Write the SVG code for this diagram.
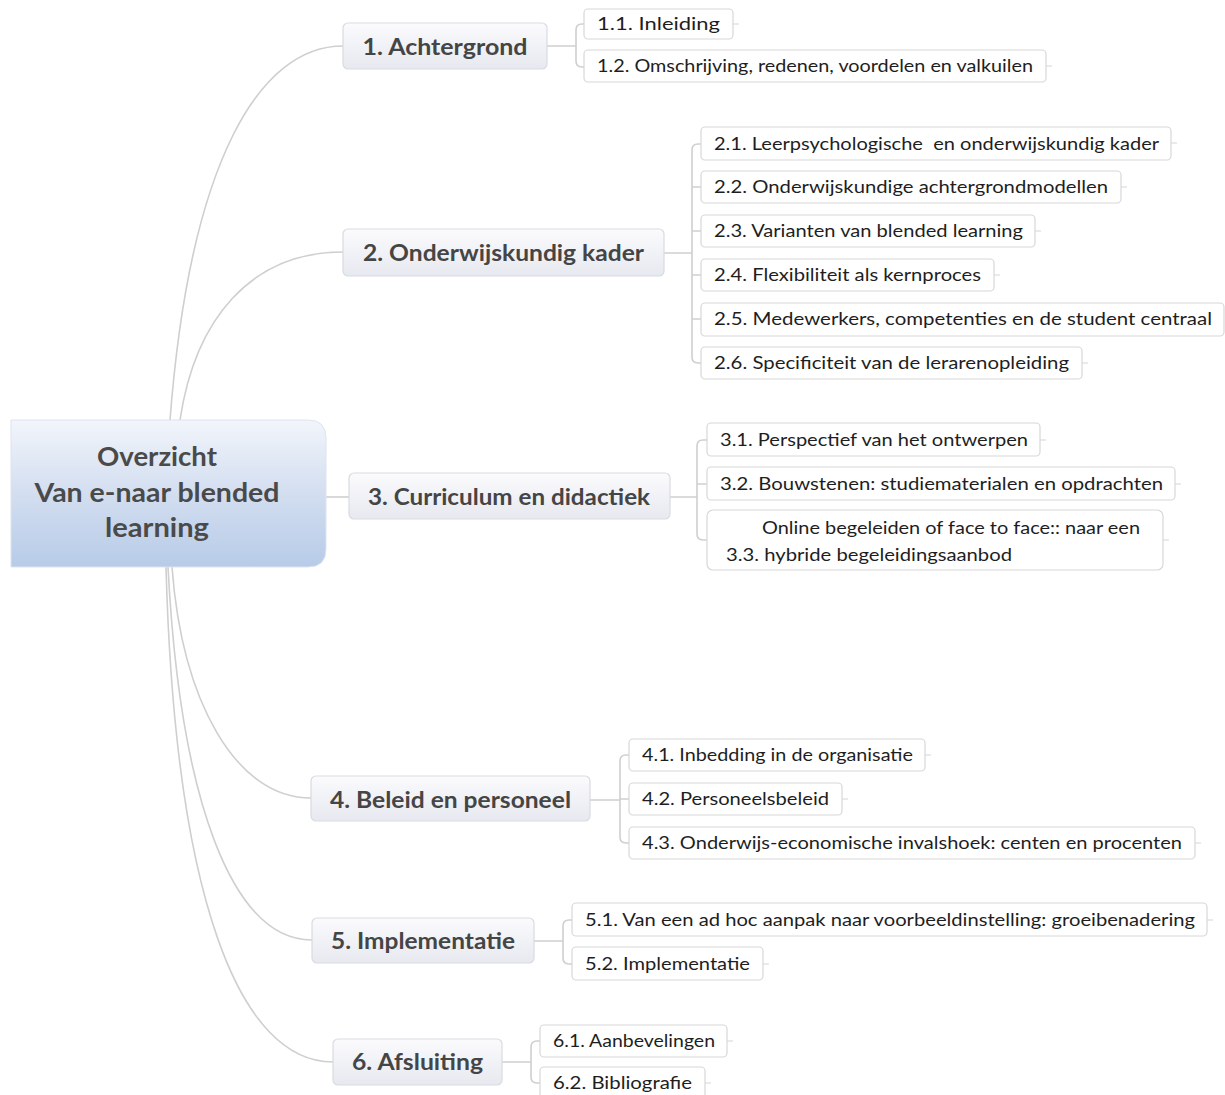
<svg xmlns="http://www.w3.org/2000/svg" width="1225" height="1095" viewBox="0 0 1225 1095">
<defs>
<linearGradient id="rootG" x1="0" y1="0" x2="0" y2="1">
<stop offset="0" stop-color="#f2f5fb"/>
<stop offset="0.5" stop-color="#d3def0"/>
<stop offset="1" stop-color="#b7cbe8"/>
</linearGradient>
<linearGradient id="brG" x1="0" y1="0" x2="0" y2="1">
<stop offset="0" stop-color="#fbfbfd"/>
<stop offset="1" stop-color="#e7e9f0"/>
</linearGradient>
</defs>
<style>
.con{fill:none;stroke:#cfcfcf;stroke-width:1.6}
.stub{fill:none;stroke:#d6d6d6;stroke-width:1.2}
.br rect{fill:url(#brG);stroke:#d9dbe1;stroke-width:1.2}
.br text{font-family:Lato,"Open Sans",sans-serif;font-weight:bold;font-size:22px;fill:#454545;text-anchor:middle}
.lf rect{fill:#ffffff;stroke:#d8d8d8;stroke-width:1.2}
.lf text{font-family:Lato,"Open Sans",sans-serif;font-size:18px;fill:#1e1e1e}
.rt text{font-family:Lato,"Open Sans",sans-serif;font-weight:bold;font-size:26px;fill:#4a4a4a;text-anchor:middle}
</style>
<rect width="1225" height="1095" fill="#ffffff"/>
<g id="connectors">
<path class="con" d="M170,420 C190,160 260,46 343,46"/>
<path class="con" d="M180,420 C195,320 250,252 343,252"/>
<path class="con" d="M326,497 H349"/>
<path class="con" d="M172,567 C182,700 235,798 311,798"/>
<path class="con" d="M168,567 C180,800 232,940 312,940"/>
<path class="con" d="M166,567 C175,900 240,1062 333,1062"/>
<path class="con" d="M547,46 H576 M584,24 H582 Q576,24 576,30 V61 Q576,67 582,67 H584"/>
<path class="con" d="M664,253 H692 M701,144 H698 Q692,144 692,150 V357 Q692,363 698,363 H701 M692,187 H701 M692,231 H701 M692,275 H701 M692,319 H701"/>
<path class="con" d="M670,497 H697 M707,440 H703 Q697,440 697,446 V534 Q697,540 703,540 H707 M697,484 H707"/>
<path class="con" d="M590,800 H620 M629,755 H626 Q620,755 620,761 V837 Q620,843 626,843 H629 M620,799 H629"/>
<path class="con" d="M534,941 H563 M572,920 H569 Q563,920 563,926 V958 Q563,964 569,964 H572"/>
<path class="con" d="M502,1062 H531 M540,1041 H537 Q531,1041 531,1047 V1077 Q531,1083 537,1083 H540"/>
<path class="stub" d="M733,24 h6 M1046,66 h6 M1171,143 h6 M1121,187 h6 M1035,231 h6 M994,275 h6 M1082,363 h6 M1040,440 h6 M1175,484 h6 M1163,540 h6 M925,755 h6 M842,799 h6 M1195,843 h6 M1207,920 h6 M763,964 h6 M727,1041 h6 M705,1083 h6"/>
</g>
<g id="root" class="rt">
<path d="M11,420 H308 Q326,420 326,438 V549 Q326,567 308,567 H11 Z" fill="url(#rootG)" stroke="#dde3ee" stroke-width="1"/>
<text x="157" y="466" textLength="120" lengthAdjust="spacingAndGlyphs">Overzicht</text>
<text x="157" y="502" textLength="245" lengthAdjust="spacingAndGlyphs">Van e-naar blended</text>
<text x="157" y="537" textLength="104" lengthAdjust="spacingAndGlyphs">learning</text>
</g>
<g id="b1" class="br"><rect x="343" y="23" width="204" height="46" rx="5"/><text x="445" y="55" textLength="165" lengthAdjust="spacingAndGlyphs">1. Achtergrond</text></g>
<g id="b2" class="br"><rect x="343" y="229" width="321" height="47" rx="5"/><text x="503.5" y="261" textLength="281" lengthAdjust="spacingAndGlyphs">2. Onderwijskundig kader</text></g>
<g id="b3" class="br"><rect x="349" y="473" width="321" height="46" rx="5"/><text x="509" y="505" textLength="282" lengthAdjust="spacingAndGlyphs">3. Curriculum en didactiek</text></g>
<g id="b4" class="br"><rect x="311" y="776" width="279" height="45" rx="5"/><text x="450.5" y="808" textLength="241" lengthAdjust="spacingAndGlyphs">4. Beleid en personeel</text></g>
<g id="b5" class="br"><rect x="312" y="918" width="222" height="45" rx="5"/><text x="423" y="949" textLength="184" lengthAdjust="spacingAndGlyphs">5. Implementatie</text></g>
<g id="b6" class="br"><rect x="333" y="1039" width="169" height="46" rx="5"/><text x="417.5" y="1070" textLength="131" lengthAdjust="spacingAndGlyphs">6. Afsluiting</text></g>
<g id="l11" class="lf"><rect x="584" y="9" width="149" height="30" rx="4"/><text x="597" y="30" textLength="123" lengthAdjust="spacingAndGlyphs">1.1. Inleiding</text></g>
<g id="l12" class="lf"><rect x="584" y="50" width="462" height="32" rx="4"/><text x="597" y="72" textLength="436" lengthAdjust="spacingAndGlyphs">1.2. Omschrijving, redenen, voordelen en valkuilen</text></g>
<g id="l21" class="lf"><rect x="701" y="127" width="470" height="33" rx="4"/><text x="714" y="150" textLength="445" lengthAdjust="spacingAndGlyphs">2.1. Leerpsychologische&#160; en onderwijskundig kader</text></g>
<g id="l22" class="lf"><rect x="701" y="171" width="420" height="32" rx="4"/><text x="714" y="193" textLength="394" lengthAdjust="spacingAndGlyphs">2.2. Onderwijskundige achtergrondmodellen</text></g>
<g id="l23" class="lf"><rect x="701" y="215" width="334" height="32" rx="4"/><text x="714" y="237" textLength="309" lengthAdjust="spacingAndGlyphs">2.3. Varianten van blended learning</text></g>
<g id="l24" class="lf"><rect x="701" y="259" width="293" height="32" rx="4"/><text x="714" y="281" textLength="267" lengthAdjust="spacingAndGlyphs">2.4. Flexibiliteit als kernproces</text></g>
<g id="l25" class="lf"><rect x="701" y="303" width="523" height="33" rx="4"/><text x="714" y="325" textLength="498" lengthAdjust="spacingAndGlyphs">2.5. Medewerkers, competenties en de student centraal</text></g>
<g id="l26" class="lf"><rect x="701" y="347" width="381" height="32" rx="4"/><text x="714" y="369" textLength="355" lengthAdjust="spacingAndGlyphs">2.6. Specificiteit van de lerarenopleiding</text></g>
<g id="l31" class="lf"><rect x="707" y="423" width="333" height="33" rx="4"/><text x="720" y="446" textLength="308" lengthAdjust="spacingAndGlyphs">3.1. Perspectief van het ontwerpen</text></g>
<g id="l32" class="lf"><rect x="707" y="467" width="468" height="33" rx="4"/><text x="720" y="490" textLength="443" lengthAdjust="spacingAndGlyphs">3.2. Bouwstenen: studiematerialen en opdrachten</text></g>
<g id="l33" class="lf"><rect x="707" y="510" width="456" height="60" rx="6"/><text x="762" y="534" textLength="378" lengthAdjust="spacingAndGlyphs">Online begeleiden of face to face:: naar een</text><text x="726" y="561" textLength="286" lengthAdjust="spacingAndGlyphs">3.3. hybride begeleidingsaanbod</text></g>
<g id="l41" class="lf"><rect x="629" y="739" width="296" height="32" rx="4"/><text x="642" y="761" textLength="271" lengthAdjust="spacingAndGlyphs">4.1. Inbedding in de organisatie</text></g>
<g id="l42" class="lf"><rect x="629" y="783" width="213" height="32" rx="4"/><text x="642" y="805" textLength="187" lengthAdjust="spacingAndGlyphs">4.2. Personeelsbeleid</text></g>
<g id="l43" class="lf"><rect x="629" y="827" width="566" height="32" rx="4"/><text x="642" y="849" textLength="540" lengthAdjust="spacingAndGlyphs">4.3. Onderwijs-economische invalshoek: centen en procenten</text></g>
<g id="l51" class="lf"><rect x="572" y="903" width="635" height="33" rx="4"/><text x="585" y="926" textLength="610" lengthAdjust="spacingAndGlyphs">5.1. Van een ad hoc aanpak naar voorbeeldinstelling: groeibenadering</text></g>
<g id="l52" class="lf"><rect x="572" y="947" width="191" height="33" rx="4"/><text x="585" y="970" textLength="165" lengthAdjust="spacingAndGlyphs">5.2. Implementatie</text></g>
<g id="l61" class="lf"><rect x="540" y="1025" width="187" height="32" rx="4"/><text x="553" y="1047" textLength="162" lengthAdjust="spacingAndGlyphs">6.1. Aanbevelingen</text></g>
<g id="l62" class="lf"><rect x="540" y="1067" width="165" height="34" rx="4"/><text x="553" y="1089" textLength="139" lengthAdjust="spacingAndGlyphs">6.2. Bibliografie</text></g>
</svg>
